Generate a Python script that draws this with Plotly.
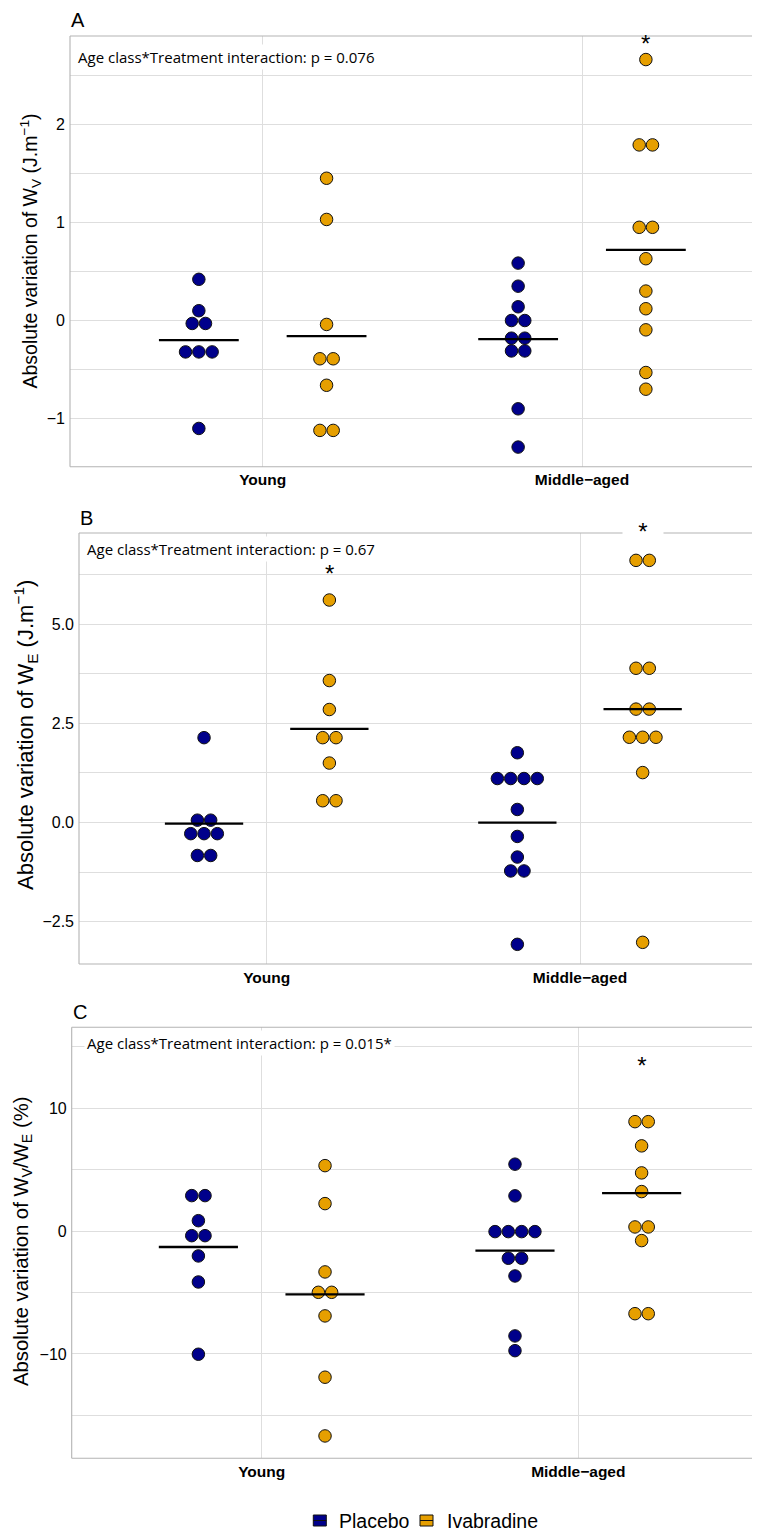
import plotly.graph_objects as go

OFF = 8  # default page margin of the written html body
W, H = 760, 1531
XDOM_END = 1.0

categories = ["Young", "Middle\u2212aged"]
treatments = ["Placebo", "Ivabradine"]
colors = {"Placebo": "#00008B", "Ivabradine": "#E69F00"}

# ---- Panel A : absolute variation of W_V ----
A_young_placebo = [0.42, 0.10, -0.03, -0.03, -0.32, -0.32, -0.32, -1.10]
A_young_ivab = [1.45, 1.03, -0.04, -0.39, -0.39, -0.66, -1.12, -1.12]
A_mid_placebo = [0.585, 0.35, 0.14, 0.0, 0.0, -0.18, -0.18, -0.31, -0.31, -0.90, -1.29]
A_mid_ivab = [2.66, 1.79, 1.79, 0.95, 0.95, 0.63, 0.30, 0.12, -0.095, -0.53, -0.70]
A_mean_placebo = [-0.20, -0.19]
A_mean_ivab = [-0.16, 0.72]
A_ticks = [-1, 0, 1, 2]
A_ticklabels = ["\u22121", "0", "1", "2"]
A_p = "Age class*Treatment interaction: p = 0.076"
A_stars = [("Middle\u2212aged", "Ivabradine", 2.88)]

# ---- Panel B : absolute variation of W_E ----
B_young_placebo = [2.14, 0.06, 0.06, -0.28, -0.28, -0.28, -0.83, -0.83]
B_young_ivab = [5.61, 3.58, 2.85, 2.14, 2.14, 1.50, 0.55, 0.55]
B_mid_placebo = [1.76, 1.11, 1.11, 1.11, 1.11, 0.33, -0.35, -0.87, -1.22, -1.22, -3.07]
B_mid_ivab = [6.61, 6.61, 3.89, 3.89, 2.86, 2.86, 2.15, 2.15, 2.15, 1.26, -3.02]
B_mean_placebo = [-0.025, 0.0]
B_mean_ivab = [2.36, 2.86]
B_ticks = [-2.5, 0.0, 2.5, 5.0]
B_ticklabels = ["\u22122.5", "0.0", "2.5", "5.0"]
B_p = "Age class*Treatment interaction: p = 0.67"
B_stars = [("Young", "Ivabradine", 6.43), ("Middle\u2212aged", "Ivabradine", 7.5)]

# ---- Panel C : absolute variation of W_V/W_E ----
C_young_placebo = [2.89, 2.89, 0.85, -0.37, -0.37, -2.02, -4.14, -10.02]
C_young_ivab = [5.33, 2.24, -3.32, -4.98, -4.98, -6.90, -11.89, -16.67]
C_mid_placebo = [5.45, 2.87, -0.04, -0.04, -0.04, -0.04, -2.21, -2.21, -3.65, -8.53, -9.73]
C_mid_ivab = [8.91, 8.91, 6.94, 4.74, 3.22, 0.34, 0.34, -0.77, -6.72, -6.72]
C_mean_placebo = [-1.29, -1.59]
C_mean_ivab = [-5.14, 3.10]
C_ticks = [-10, 0, 10]
C_ticklabels = ["\u221210", "0", "10"]
C_p = "Age class*Treatment interaction: p = 0.015*"
C_stars = [("Middle\u2212aged", "Ivabradine", 14.0)]

titles = [
    "Absolute variation of W<sub>V</sub> (J.m<sup>\u22121</sup>)",
    "Absolute variation of W<sub>E</sub> (J.m<sup>\u22121</sup>)",
    "Absolute variation of W<sub>V</sub>/W<sub>E</sub> (%)",
]

# ---- geometry (page pixels) ----
geom = [
    dict(letter="A", left=70, top=36, bottom=466.7, young=262.7, mid=582, yr=[-1.49, 2.90],
         title_x=30, title_y=251.5, title_size=19.5, p_x=75, p_y=57, letter_y=20, star_bg=[False],
         data={("Young", "Placebo"): A_young_placebo, ("Young", "Ivabradine"): A_young_ivab,
               ("Middle\u2212aged", "Placebo"): A_mid_placebo, ("Middle\u2212aged", "Ivabradine"): A_mid_ivab},
         means={"Placebo": A_mean_placebo, "Ivabradine": A_mean_ivab},
         ticks=A_ticks, ticklabels=A_ticklabels, p=A_p, stars=A_stars),
    dict(letter="B", left=79, top=533, bottom=964, young=266.7, mid=580, yr=[-3.566, 7.30],
         title_x=25, title_y=735, title_size=22, p_x=84, p_y=549, letter_y=518, star_bg=[False, True],
         data={("Young", "Placebo"): B_young_placebo, ("Young", "Ivabradine"): B_young_ivab,
               ("Middle\u2212aged", "Placebo"): B_mid_placebo, ("Middle\u2212aged", "Ivabradine"): B_mid_ivab},
         means={"Placebo": B_mean_placebo, "Ivabradine": B_mean_ivab},
         ticks=B_ticks, ticklabels=B_ticklabels, p=B_p, stars=B_stars),
    dict(letter="C", left=71.7, top=1027.3, bottom=1458.3, young=261.7, mid=578.3, yr=[-18.49, 16.59],
         title_x=22, title_y=1242, title_size=20.3, p_x=84, p_y=1043, letter_y=1012, star_bg=[True],
         data={("Young", "Placebo"): C_young_placebo, ("Young", "Ivabradine"): C_young_ivab,
               ("Middle\u2212aged", "Placebo"): C_mid_placebo, ("Middle\u2212aged", "Ivabradine"): C_mid_ivab},
         means={"Placebo": C_mean_placebo, "Ivabradine": C_mean_ivab},
         ticks=C_ticks, ticklabels=C_ticklabels, p=C_p, stars=C_stars),
]

DOT_PX = 13.3
GRID = "#DEDEDE"
BORDER = "#B3B3B3"
TEXT = "#000000"


def fx(px):
    return (px - OFF) / W


def fy(py):
    return 1 - (py - OFF) / H


def dodge(values, center, du):
    counts = {}
    for v in values:
        counts[v] = counts.get(v, 0) + 1
    seen = {}
    xs = []
    for v in values:
        n = counts[v]
        i = seen.get(v, 0)
        seen[v] = i + 1
        xs.append(center + (i - (n - 1) / 2) * du)
    return xs


fig = go.Figure()
annotations = []
shapes = []
layout_axes = {}

for k, g in enumerate(geom):
    sfx = "" if k == 0 else str(k + 1)
    xname, yname = "x" + sfx, "y" + sfx
    xdom = [fx(g["left"]), XDOM_END]
    ydom = [fy(g["bottom"]), fy(g["top"])]
    right_px = OFF + XDOM_END * W
    spacing = g["mid"] - g["young"]
    xr = [1 - (g["young"] - g["left"]) / spacing, 2 + (right_px - g["mid"]) / spacing]
    du = DOT_PX / spacing
    offs = {"Placebo": -0.2, "Ivabradine": 0.2}

    def to_paper_x(xv):
        return xdom[0] + (xv - xr[0]) / (xr[1] - xr[0]) * (xdom[1] - xdom[0])

    def to_paper_y(yv):
        return ydom[0] + (yv - g["yr"][0]) / (g["yr"][1] - g["yr"][0]) * (ydom[1] - ydom[0])

    for t in treatments:
        xs, ys = [], []
        for ci, c in enumerate(categories):
            vals = g["data"][(c, t)]
            xs += dodge(vals, ci + 1 + offs[t], du)
            ys += vals
        fig.add_trace(go.Scatter(
            x=xs, y=ys, mode="markers", xaxis=xname, yaxis=yname, showlegend=False,
            marker=dict(size=12.5, color=colors[t], line=dict(color="#111111", width=1)),
            name=t, cliponaxis=False))
    for t in treatments:
        lx, ly = [], []
        for ci, c in enumerate(categories):
            pos = ci + 1 + offs[t]
            m = g["means"][t][ci]
            lx += [pos - 0.125, pos + 0.125, None]
            ly += [m, m, None]
        fig.add_trace(go.Scatter(x=lx, y=ly, mode="lines", xaxis=xname, yaxis=yname,
                                 showlegend=False, line=dict(color="black", width=2.3),
                                 hoverinfo="skip"))

    step = g["ticks"][1] - g["ticks"][0]
    minor_vals = [t + step / 2 for t in [g["ticks"][0] - step] + g["ticks"]]

    layout_axes["xaxis" + sfx] = dict(
        domain=xdom, range=xr, anchor=yname,
        tickvals=[1, 2], ticktext=categories, showgrid=True, gridcolor=GRID, gridwidth=1,
        zeroline=False, showline=False, ticks="",
        tickfont=dict(family="Liberation Sans, Arial", size=15.5, color=TEXT, weight="bold"),
        ticklabelstandoff=2, fixedrange=True)
    layout_axes["yaxis" + sfx] = dict(
        domain=ydom, range=g["yr"], anchor=xname,
        tickvals=g["ticks"], ticktext=g["ticklabels"], showgrid=True, gridcolor=GRID, gridwidth=1,
        minor=dict(tickvals=minor_vals, showgrid=True, gridcolor=GRID, gridwidth=1, ticks=""),
        zeroline=False, showline=False, ticks="",
        tickfont=dict(family="Liberation Sans, Arial", size=16, color=TEXT),
        ticklabelstandoff=4, fixedrange=True)

    # panel border (left, top, bottom); right side runs off the page
    for (x0, y0, x1, y1) in [(0, 0, 0, 1), (0, 1, 1, 1), (0, 0, 1, 0)]:
        shapes.append(dict(type="line", xref=xname + " domain", yref=yname + " domain",
                           x0=x0, y0=y0, x1=x1, y1=y1, line=dict(color=BORDER, width=1.1),
                           layer="above"))

    # y title
    annotations.append(dict(
        text=titles[k], xref="paper", yref="paper", x=fx(g["title_x"]), y=fy(g["title_y"]),
        xanchor="center", yanchor="middle", textangle=-90, showarrow=False,
        font=dict(family="Liberation Sans, Arial", size=g["title_size"], color=TEXT)))
    # panel letter
    annotations.append(dict(
        text=g["letter"], xref="paper", yref="paper", x=fx(g["left"] - 1), y=fy(g["letter_y"]),
        xanchor="left", yanchor="middle", showarrow=False,
        font=dict(family="Liberation Sans, Arial", size=20, color=TEXT)))
    # p value label
    annotations.append(dict(
        text=g["p"], xref="paper", yref="paper", x=fx(g["p_x"]), y=fy(g["p_y"]),
        xanchor="left", yanchor="middle", showarrow=False, bgcolor="white", borderpad=2,
        font=dict(family="Open Sans", size=15, color=TEXT)))
    # significance stars
    for si, (c, t, yv) in enumerate(g["stars"]):
        pos = categories.index(c) + 1 + offs[t]
        a = dict(text="*", xref="paper", yref="paper", x=to_paper_x(pos), y=to_paper_y(yv),
                 xanchor="center", yanchor="middle", showarrow=False, yshift=-6,
                 font=dict(family="Liberation Sans, Arial", size=24, color=TEXT))
        if g["star_bg"][si]:
            a.update(bgcolor="white", width=40, height=26, borderpad=0)
        annotations.append(a)

# legend (bottom, drawn manually)
leg_items = [("Placebo", 313.3, 337.3), ("Ivabradine", 420.0, 445.0)]
for (name, kx, tx) in leg_items:
    shapes.append(dict(type="rect", xref="paper", yref="paper",
                       x0=fx(kx), x1=fx(kx + 13), y0=fy(1526), y1=fy(1515),
                       fillcolor=colors[name], line=dict(color="#111111", width=1)))
    shapes.append(dict(type="line", xref="paper", yref="paper",
                       x0=fx(kx), x1=fx(kx + 13), y0=fy(1520.5), y1=fy(1520.5),
                       line=dict(color="#111111", width=1)))
    annotations.append(dict(text=name, xref="paper", yref="paper", x=fx(tx), y=fy(1520.5),
                            xanchor="left", yanchor="middle", showarrow=False,
                            font=dict(family="Liberation Sans, Arial", size=19.5, color=TEXT)))

fig.update_layout(
    width=W, height=H, margin=dict(l=0, r=0, t=0, b=0),
    paper_bgcolor="white", plot_bgcolor="white",
    annotations=annotations, shapes=shapes, showlegend=False,
    **layout_axes)

fig.write_html("out.html")
